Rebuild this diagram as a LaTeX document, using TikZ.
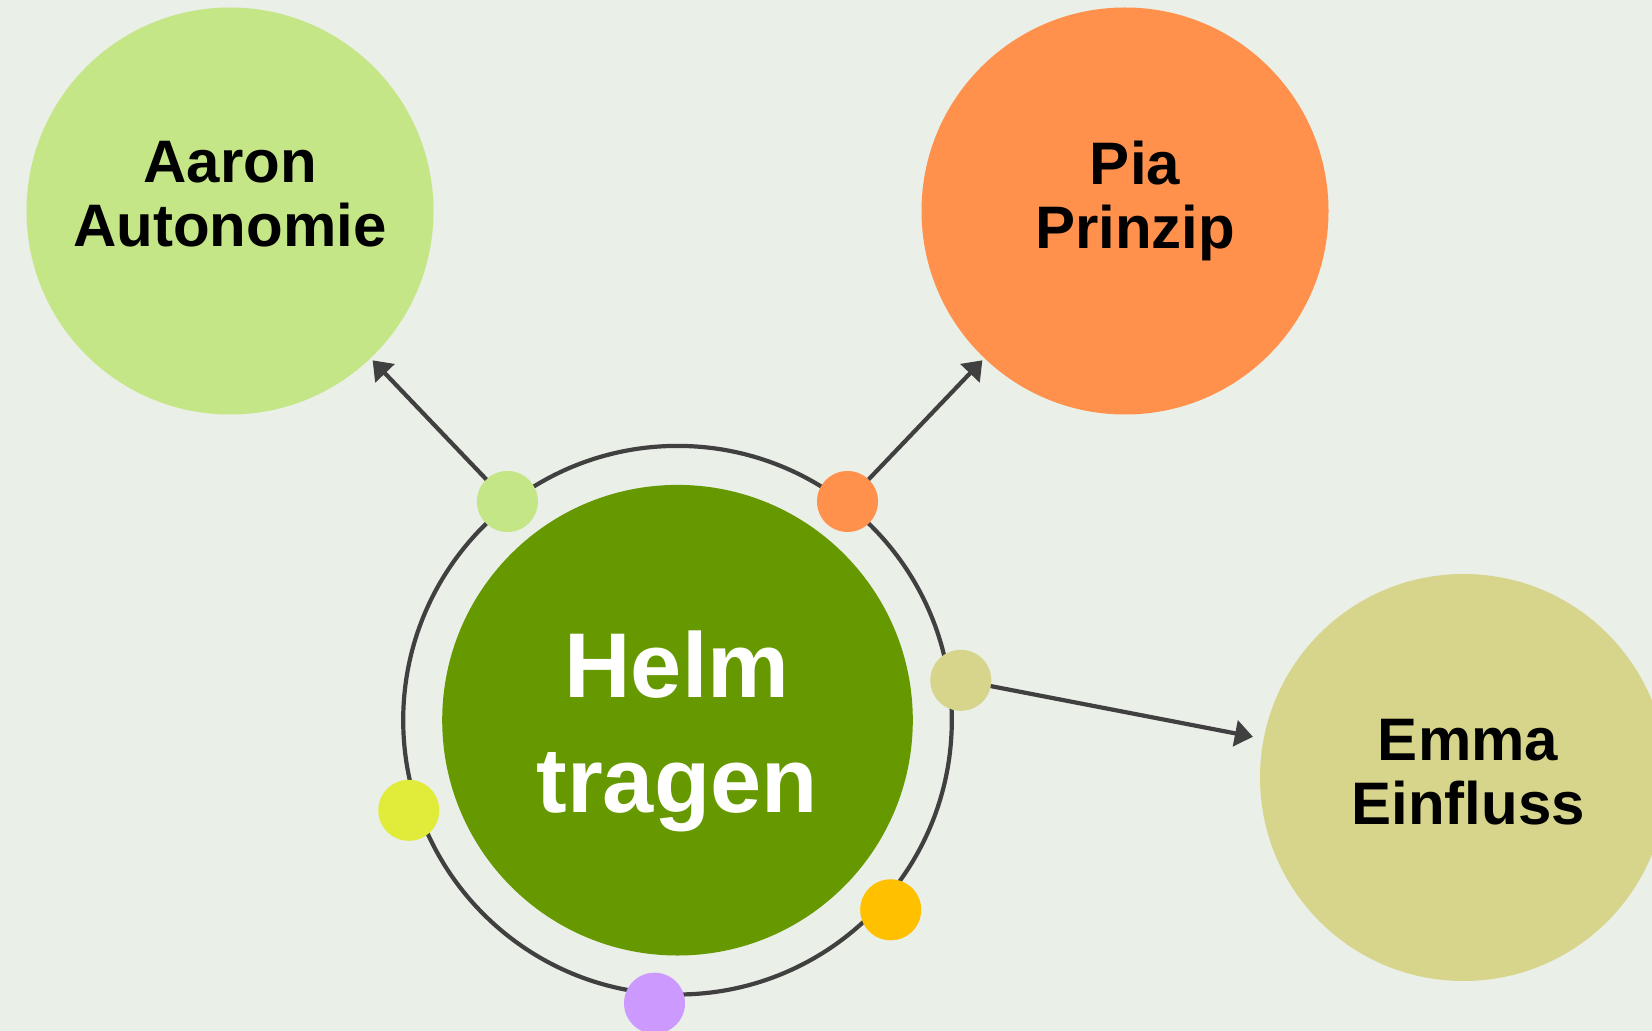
\documentclass[tikz,border=0pt]{standalone}
\usepackage{fontspec}
\setmainfont{Liberation Sans}
\usetikzlibrary{arrows.meta}
\definecolor{bgc}{HTML}{EAEFE7}
\definecolor{aaronc}{HTML}{C5E686}
\definecolor{piac}{HTML}{FF914D}
\definecolor{emmac}{HTML}{D6D58B}
\definecolor{helmc}{HTML}{669900}
\definecolor{yellowc}{HTML}{E1EB3A}
\definecolor{amberc}{HTML}{FFC000}
\definecolor{violetc}{HTML}{CC99FF}
\definecolor{linec}{HTML}{404040}
\tikzset{
  bigcircle/.style={circle, fill=#1, draw=none, minimum size=203.5pt, inner sep=0pt, outer sep=0pt},
  dotc/.style={circle, fill=#1, draw=none, minimum size=30.5pt, inner sep=0pt, outer sep=0pt},
  sidelabel/.style={anchor=north, align=center, inner sep=0pt, font=\bfseries\fontsize{30}{32}\selectfont},
  conn/.style={draw=linec, line width=2.1pt, -{Triangle[length=9pt,width=13pt]}},
}
\begin{document}
\begin{tikzpicture}[x=0.5pt, y=-0.5pt]
\useasboundingbox (0,0) rectangle (1652,1031);
\fill[bgc] (0,0) rectangle (1652,1031);

% big outer circles
\node[bigcircle=aaronc] (aaron) at (230,211) {};
\node[bigcircle=piac] (pia) at (1125,211) {};
\node[bigcircle=emmac] (emma) at (1463.5,777.5) {};

% centre
\node[circle, draw=linec, line width=2.1pt, minimum size=274.3pt, inner sep=0pt] (ring) at (677.5,720.2) {};
\node[circle, fill=helmc, minimum size=235.3pt, inner sep=0pt] (helm) at (677.5,720.2) {};

% labels
\node[sidelabel] (aarontext) at (230,140.7) {Aaron\\Autonomie};
\node[sidelabel] (piatext) at (1135,140.5) {Pia\\Prinzip};
\node[sidelabel] (emmatext) at (1468,718.5) {Emma\\Einfluss};
\node[anchor=north, align=center, inner sep=0pt, text=white, font=\bfseries\fontsize{46}{57.5}\selectfont] (helmtext) at (677,630) {Helm\\tragen};

% dots
\node[dotc=aaronc] (d1) at (507.4,501.5) {};
\node[dotc=piac] (d2) at (847.5,501.5) {};
\node[dotc=emmac] (d3) at (960.8,680.3) {};
\node[dotc=yellowc] (d4) at (408.8,810.3) {};
\node[dotc=amberc] (d5) at (890.7,909.8) {};
\node[dotc=violetc] (d6) at (654.5,1003.2) {};

% connectors
\draw[conn, shorten >=1.5pt] (d1) -- (aaron);
\draw[conn, shorten >=1.5pt] (d2) -- (pia);
\draw[conn, shorten >=5.5pt] (d3) -- (emma);
\end{tikzpicture}
\end{document}
